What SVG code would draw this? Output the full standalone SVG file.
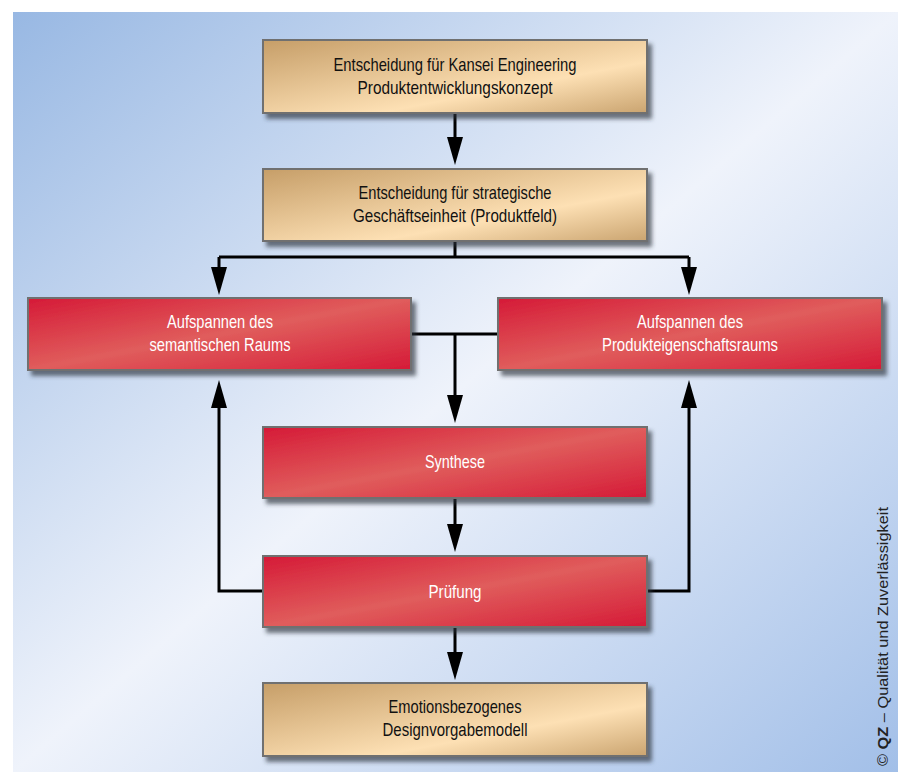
<svg xmlns="http://www.w3.org/2000/svg" width="898" height="772" viewBox="0 0 898 772">
  <defs>
    <linearGradient id="bg" x1="0" y1="0" x2="1" y2="1">
      <stop offset="0" stop-color="#98b8e3"/>
      <stop offset="0.5" stop-color="#eff3fb"/>
      <stop offset="1" stop-color="#a2bfe8"/>
    </linearGradient>
    <linearGradient id="tan" x1="0" y1="0" x2="1" y2="1">
      <stop offset="0" stop-color="#c69e68"/>
      <stop offset="0.65" stop-color="#fde0b4"/>
      <stop offset="1" stop-color="#caa470"/>
    </linearGradient>
    <linearGradient id="red" x1="0" y1="0" x2="1" y2="1">
      <stop offset="0" stop-color="#d51a37"/>
      <stop offset="0.5" stop-color="#e05d5c"/>
      <stop offset="1" stop-color="#d51a37"/>
    </linearGradient>
    <filter id="sh" x="-10%" y="-20%" width="125%" height="150%">
      <feDropShadow dx="4" dy="5" stdDeviation="2" flood-color="#2a2f3a" flood-opacity="0.65"/>
    </filter>
    <marker id="ah" markerUnits="userSpaceOnUse" markerWidth="28" markerHeight="16" refX="0" refY="8" orient="auto" viewBox="0 0 28 16">
      <path d="M0,0 L28,8 L0,16 z" fill="#000"/>
    </marker>
    <style>
      .box { stroke: #6f6f6f; stroke-width: 2; filter: url(#sh); }
      .t { fill: url(#tan); }
      .r { fill: url(#red); }
      .lbl { font-family: "Liberation Sans", Arial, sans-serif; font-size: 19px; text-anchor: middle; }
      .dk { fill: #111111; }
      .wh { fill: #ffffff; }
      .c { fill: none; stroke: #000; stroke-width: 3; }
    </style>
  </defs>

  <rect x="13" y="12" width="885" height="760" fill="url(#bg)"/>

  <g id="connectors">
    <path class="c" d="M455,113 V137" marker-end="url(#ah)"/>
    <path class="c" d="M455,241 V257"/>
    <path class="c" d="M219,257 H689"/>
    <path class="c" d="M219,257 V267" marker-end="url(#ah)"/>
    <path class="c" d="M689,257 V267" marker-end="url(#ah)"/>
    <path class="c" d="M411,334 H498"/>
    <path class="c" d="M455,334 V395" marker-end="url(#ah)"/>
    <path class="c" d="M455,498 V524" marker-end="url(#ah)"/>
    <path class="c" d="M455,627 V652" marker-end="url(#ah)"/>
    <path class="c" d="M263,591 H219 V408" marker-end="url(#ah)"/>
    <path class="c" d="M647,591 H689 V408" marker-end="url(#ah)"/>
  </g>

  <g id="n1">
    <rect class="box t" x="263" y="40" width="384" height="73"/>
    <text class="lbl dk" x="455" y="71" textLength="243" lengthAdjust="spacingAndGlyphs">Entscheidung für Kansei Engineering</text>
    <text class="lbl dk" x="455" y="94" textLength="195" lengthAdjust="spacingAndGlyphs">Produktentwicklungskonzept</text>
  </g>
  <g id="n2">
    <rect class="box t" x="263" y="169" width="384" height="72"/>
    <text class="lbl dk" x="455" y="199" textLength="193" lengthAdjust="spacingAndGlyphs">Entscheidung für strategische</text>
    <text class="lbl dk" x="455" y="222" textLength="204" lengthAdjust="spacingAndGlyphs">Geschäftseinheit (Produktfeld)</text>
  </g>
  <g id="n3">
    <rect class="box r" x="28" y="298" width="383" height="72"/>
    <text class="lbl wh" x="220" y="328" textLength="106" lengthAdjust="spacingAndGlyphs">Aufspannen des</text>
    <text class="lbl wh" x="220" y="351" textLength="141" lengthAdjust="spacingAndGlyphs">semantischen Raums</text>
  </g>
  <g id="n4">
    <rect class="box r" x="498" y="298" width="384" height="72"/>
    <text class="lbl wh" x="690" y="328" textLength="106" lengthAdjust="spacingAndGlyphs">Aufspannen des</text>
    <text class="lbl wh" x="690" y="351" textLength="176" lengthAdjust="spacingAndGlyphs">Produkteigenschaftsraums</text>
  </g>
  <g id="n5">
    <rect class="box r" x="263" y="427" width="384" height="71"/>
    <text class="lbl wh" x="455" y="468" textLength="60" lengthAdjust="spacingAndGlyphs">Synthese</text>
  </g>
  <g id="n6">
    <rect class="box r" x="263" y="556" width="384" height="71"/>
    <text class="lbl wh" x="455" y="598" textLength="53" lengthAdjust="spacingAndGlyphs">Prüfung</text>
  </g>
  <g id="n7">
    <rect class="box t" x="263" y="683" width="384" height="73"/>
    <text class="lbl dk" x="455" y="713" textLength="133" lengthAdjust="spacingAndGlyphs">Emotionsbezogenes</text>
    <text class="lbl dk" x="455" y="736" textLength="145" lengthAdjust="spacingAndGlyphs">Designvorgabemodell</text>
  </g>

  <text transform="translate(888,766) rotate(-90)" font-family="'Liberation Sans', Arial, sans-serif" font-size="14" fill="#222" textLength="259" lengthAdjust="spacingAndGlyphs">© <tspan font-weight="bold">QZ</tspan> – Qualität und Zuverlässigkeit</text>
</svg>
